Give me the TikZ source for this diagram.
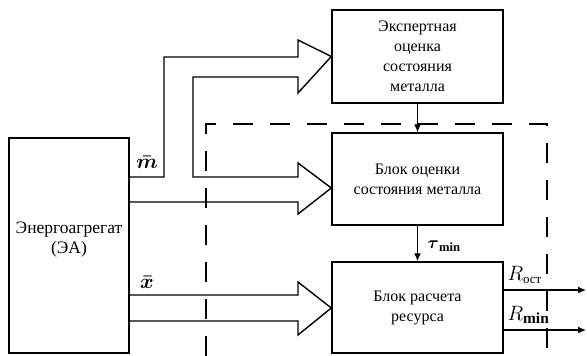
\documentclass[tikz,border=0pt]{standalone}
\usepackage{fontspec}
\setmainfont{Liberation Serif}
\usepackage{amsmath}
\usetikzlibrary{arrows.meta}
\begin{document}
\begin{tikzpicture}[x=1pt,y=-1pt,line width=1.4pt,line join=miter,
  blk/.style={draw,line width=1.4pt,inner sep=0pt,align=center,
    font=\fontsize{16}{20}\selectfont},
  hollow/.style={draw,line width=1.4pt},
  dashline/.style={draw,line width=1.4pt,dash pattern=on 20pt off 17pt},
  flow/.style={draw,line width=1.4pt,-{Latex[length=8pt,width=7pt]}},
  lbl/.style={inner sep=0pt,font=\fontsize{20}{22}\selectfont}]
\useasboundingbox (0,0) rectangle (587,356);
% boxes
\node[blk,minimum width=120pt,minimum height=215pt] (ea) at (69,245.5) {};
\node[inner sep=0pt,align=center,font=\fontsize{17.5}{20}\selectfont] (eatext) at (69,240) {Энергоагрегат\\(ЭА)};
\node[blk,minimum width=171pt,minimum height=93pt] (exp) at (417.5,56.5) {Экспертная\\оценка\\состояния\\металла};
\node[blk,minimum width=171pt,minimum height=92pt] (est) at (417.5,179) {Блок оценки\\состояния металла};
\node[blk,minimum width=171pt,minimum height=91pt] (res) at (417.5,307.5) {Блок расчета\\ресурса};
% dashed boundary
\coordinate (d1) at (206,356);
\coordinate (d2) at (206,124);
\coordinate (d3) at (547,124);
\coordinate (d4) at (547,356);
\draw[dashline] (d1) -- (d2) -- (d3) -- (d4);
% hollow branching arrow (m)
\draw[hollow] (ea.east |- 0,177) -- (164,177) -- (164,57) -- (298,57) -- (298,40)
  -- (exp.west) -- (298,93) -- (298,77) -- (193,77) -- (193,177) -- (298,177)
  -- (298,163) -- (est.west |- 0,188) -- (298,214) -- (298,202) -- (ea.east |- 0,202);
% hollow arrow (x)
\draw[hollow] (ea.east |- 0,295) -- (298,295) -- (298,282) -- (res.west |- 0,308)
  -- (298,335) -- (298,321) -- (ea.east |- 0,321);
% labels
\node[lbl] (m) at (147,162) {$\boldsymbol{\bar{m}}$};
\node[lbl] (x) at (147,282) {$\boldsymbol{\bar{x}}$};
% vertical arrows
\draw[flow] (exp.south) -- (est.north);
\draw[flow] (est.south) -- (res.north);
\node[lbl,anchor=west,font=\fontsize{18}{20}\selectfont] (tau) at (427,246) {$\boldsymbol{\tau}_{\mathbf{min}}$};
% outputs
\coordinate (o1) at (586,290);
\coordinate (o2) at (586,330);
\draw[flow] (res.east |- o1) -- (o1);
\draw[flow] (res.east |- o2) -- (o2);
\node[lbl,anchor=west,font=\fontsize{22}{24}\selectfont] (r1) at (507,275) {$R_{\mbox{\fontsize{13}{13}\selectfont ост}}$};
\node[lbl,anchor=west,font=\fontsize{22}{24}\selectfont] (r2) at (507,315) {$R_{\mathbf{min}}$};
\end{tikzpicture}
\end{document}
